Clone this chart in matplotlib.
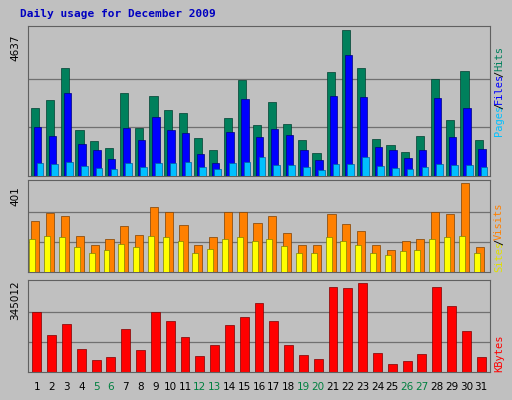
import matplotlib
matplotlib.use("Agg")
import matplotlib.pyplot as plt
import numpy as np

days = list(range(1, 32))
hits = [2160,2410,3430,1460,1110,890,2640,1530,2540,2100,2000,1210,830,1840,3050,1620,2350,1650,1140,730,3300,4637,3430,1180,990,760,1270,3080,1780,3340,1140]
files = [1560,1270,2640,1020,830,540,1530,1150,1880,1460,1370,700,410,1400,2450,1240,1500,1300,830,510,2540,3850,2510,920,830,570,830,2480,1240,2160,860]
pages = [420,380,450,330,250,220,420,300,400,400,430,280,220,420,460,600,350,360,290,200,370,380,600,330,250,220,300,380,340,360,300]
visits = [228,264,251,160,119,146,205,164,292,269,210,123,155,269,269,219,251,173,123,119,260,214,182,119,100,137,146,269,260,401,114]
sites = [148,160,155,110,85,100,125,110,160,155,140,85,105,150,155,140,150,115,85,85,155,140,120,85,75,95,100,150,155,160,85]
kbytes = [231000,141000,184000,90000,47000,59000,165000,86000,231000,196000,137000,63000,106000,180000,212000,267000,196000,106000,67000,51000,329000,325000,345012,74000,31000,43000,71000,329000,255000,157000,59000]
weekend = [5,6,12,13,19,20,26,27]

W, H = 512, 400
fig = plt.figure(figsize=(5.12, 4.0), dpi=100)
fig.patch.set_facecolor('#C0C0C0')
x = np.array(days)

def mkax(top, bot):
    ax = fig.add_axes([28/W, 1-bot/H, (490-28)/W, (bot-top)/H])
    ax.set_facecolor('#C0C0C0')
    ax.set_xlim(0.4, 31.6)
    for s in ax.spines.values():
        s.set_color('#606060')
    ax.set_xticks([]); ax.set_yticks([])
    return ax

def grid(ax, mx):
    for f in (1/3, 2/3):
        ax.axhline(mx*f, color='#707070', lw=0.9, zorder=0)
    ax.set_ylim(0, mx*1.03)

ax1 = mkax(26, 176)
grid(ax1, 4637)
ax1.bar(x-0.12, hits, width=0.55, color='#00805C', edgecolor='#004030', lw=0.5, zorder=2)
ax1.bar(x+0.05, files, width=0.5, color='#0000FF', edgecolor='#000080', lw=0.5, zorder=3)
ax1.bar(x+0.2, pages, width=0.45, color='#00C0FF', edgecolor='#0060a0', lw=0.5, zorder=4)

ax2 = mkax(180, 272)
grid(ax2, 401)
ax2.bar(x-0.1, visits, width=0.55, color='#FF8000', edgecolor='#804000', lw=0.5, zorder=2)
ax2.bar(x-0.3, sites, width=0.4, color='#FFFF00', edgecolor='#808000', lw=0.5, zorder=3)

ax3 = mkax(280, 372)
grid(ax3, 345012)
ax3.bar(x, kbytes, width=0.6, color='#FF0000', edgecolor='#800000', lw=0.5, zorder=2)

for d in days:
    fig.text((28 + (d-0.4)/31.2*462)/W, 1-387/H, str(d), ha='center', va='center', fontsize=7.5,
             color='#008040' if d in weekend else 'black')

fig.text(20/W, 1-14/H, 'Daily usage for December 2009', fontsize=8, fontweight='bold',
         family='DejaVu Sans Mono', color='#0000C0', va='center')

for yc, lab in [(48, '4637'), (196, '401'), (300, '345012')]:
    fig.text(15/W, 1-yc/H, lab, rotation=90, fontsize=7.5, ha='center', va='center')

def rlabel(ybot, parts):
    y = ybot
    for txt, c in parts:
        fig.text(499/W, 1-y/H, txt, rotation=90, fontsize=7.5, color=c, ha='center', va='bottom',
                 family='DejaVu Sans Mono')
        y -= len(txt)*5.4
rlabel(136, [('Pages', '#00C0FF'), ('/', 'black'), ('Files', '#0000FF'), ('/', 'black'), ('Hits', '#00805C')])
rlabel(272, [('Sites', '#E0E000'), ('/', 'black'), ('Visits', '#FF8000')])
rlabel(372, [('KBytes', '#FF0000')])

fig.savefig('out.png', dpi=100, facecolor=fig.get_facecolor())
